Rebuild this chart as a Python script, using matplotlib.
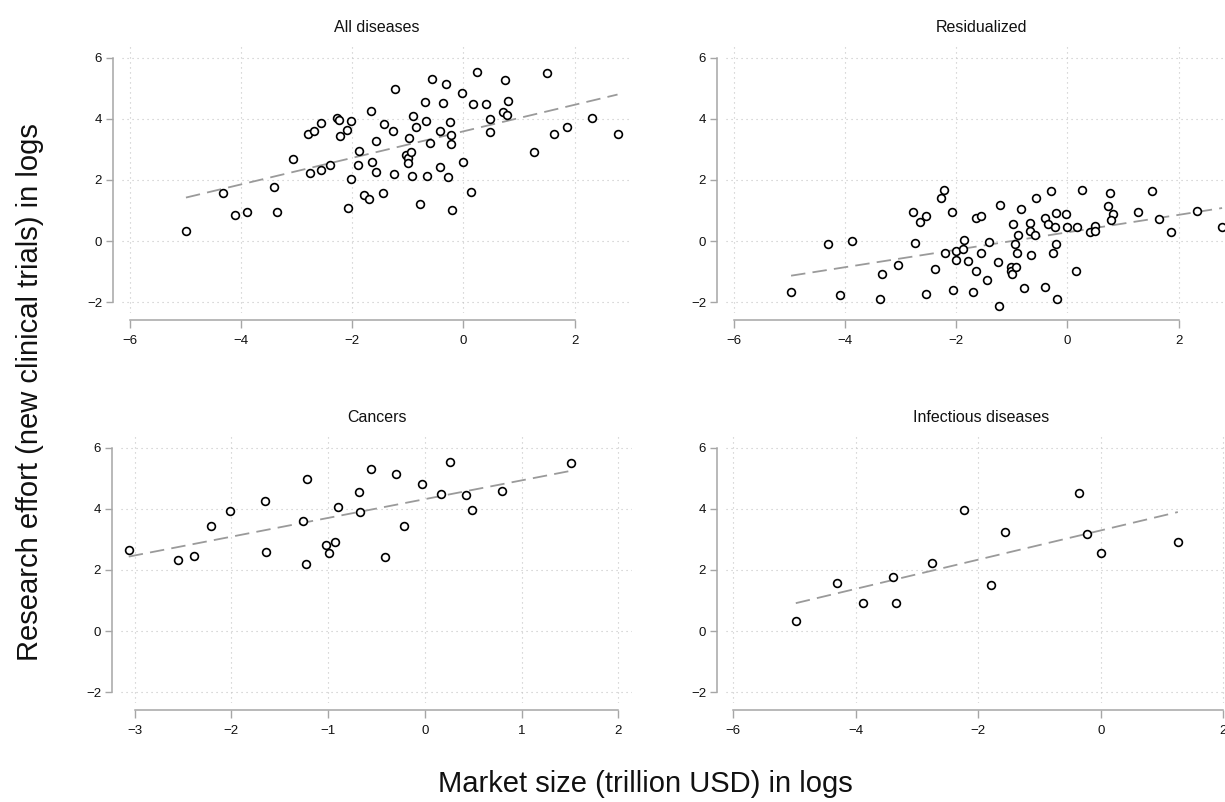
import numpy as np
import matplotlib
matplotlib.use("Agg")
import matplotlib.pyplot as plt

plt.rcParams['font.family'] = ['Liberation Sans', 'DejaVu Sans']

# ---------------- data ----------------
all_x = [-4.99, -4.32, -4.11, -3.90, -3.41, -3.35, -3.07, -2.79, -2.68, -2.57,
         -2.76, -2.56, -2.40, -2.28, -2.24, -2.22, -2.09, -2.02, -2.08, -2.02,
         -1.88, -1.90, -1.79, -1.70, -1.66, -1.65, -1.58, -1.58, -1.45, -1.43,
         -1.27, -1.24, -1.25, -0.98, -1.03, -1.00, -0.94, -1.00, -0.91, -0.85,
         -0.92, -0.79, -0.69, -0.67, -0.57, -0.60, -0.65, -0.42, -0.37, -0.31,
         -0.24, -0.23, -0.23, -0.42, -0.27, -0.20, -0.03, 0.00, 0.13, 0.17,
         0.25, 0.41, 0.48, 0.48, 0.75, 0.80, 0.71, 0.78, 1.26, 1.51,
         1.63, 1.86, 2.31, 2.77]
all_y = [0.33, 1.57, 0.87, 0.95, 1.78, 0.95, 2.68, 3.50, 3.60, 3.86,
         2.24, 2.34, 2.48, 4.02, 3.96, 3.44, 3.65, 3.93, 1.09, 2.02,
         2.94, 2.49, 1.52, 1.38, 4.26, 2.59, 3.27, 2.27, 1.57, 3.83,
         3.61, 4.99, 2.21, 3.36, 2.82, 2.71, 2.92, 2.57, 4.08, 3.73,
         2.13, 1.23, 4.56, 3.92, 5.30, 3.21, 2.13, 3.60, 4.52, 5.15,
         3.89, 3.46, 3.19, 2.44, 2.11, 1.03, 4.84, 2.58, 1.61, 4.49,
         5.53, 4.48, 3.99, 3.56, 5.26, 4.58, 4.21, 4.14, 2.91, 5.49,
         3.50, 3.74, 4.04, 3.50]

res_x = [-4.97, -4.30, -4.09, -3.88, -3.38, -3.33, -3.05, -2.77, -2.74, -2.66,
         -2.55, -2.55, -2.38, -2.27, -2.22, -2.20, -2.07, -2.06, -2.01, -2.01,
         -1.88, -1.86, -1.79, -1.69, -1.65, -1.56, -1.64, -1.56, -1.41, -1.44,
         -1.22, -1.25, -1.23, -1.02, -1.01, -0.99, -0.93, -0.84, -0.98, -0.89,
         -0.95, -0.91, -0.78, -0.68, -0.67, -0.59, -0.65, -0.56, -0.40, -0.35,
         -0.29, -0.21, -0.23, -0.21, -0.26, -0.41, -0.19, -0.02, 0.00, 0.15,
         0.18, 0.26, 0.41, 0.49, 0.50, 0.76, 0.72, 0.81, 0.78, 1.27,
         1.52, 1.64, 1.87, 2.33, 2.78]
res_y = [-1.66, -0.08, -1.75, 0.01, -1.88, -1.06, -0.78, 0.96, -0.07, 0.63,
         0.82, -1.74, -0.91, 1.41, 1.66, -0.39, 0.96, -1.61, -0.33, -0.61,
         -0.26, 0.04, -0.65, -1.67, 0.77, 0.81, -0.98, -0.38, -0.03, -1.28,
         1.17, -0.68, -2.12, -0.85, -0.98, -1.06, -0.84, 1.04, 0.57, 0.19,
         -0.08, -0.40, -1.52, 0.59, 0.33, 0.19, -0.46, 1.42, 0.75, 0.57,
         1.64, 0.92, 0.45, -0.10, -0.38, -1.51, -1.88, 0.90, 0.45, -0.99,
         0.45, 1.67, 0.31, 0.51, 0.33, 1.59, 1.16, 0.88, 0.69, 0.94,
         1.64, 0.73, 0.31, 0.98, 0.47]

can_x = [-3.06, -2.55, -2.39, -2.21, -2.01, -1.65, -1.64, -1.26, -1.22, -1.23,
         -1.02, -0.99, -0.93, -0.90, -0.68, -0.67, -0.56, -0.41, -0.30, -0.22,
         -0.03, 0.17, 0.26, 0.42, 0.49, 0.80, 1.51]
can_y = [2.67, 2.33, 2.47, 3.43, 3.92, 4.25, 2.58, 3.60, 4.97, 2.21,
         2.82, 2.57, 2.92, 4.07, 4.55, 3.91, 5.29, 2.43, 5.14, 3.45,
         4.82, 4.47, 5.52, 4.46, 3.97, 4.57, 5.49]

inf_x = [-4.98, -4.31, -3.89, -3.40, -3.34, -2.75, -2.24, -1.79, -1.57, -0.36,
         -0.22, 0.00, 1.26]
inf_y = [0.32, 1.56, 0.93, 1.77, 0.93, 2.23, 3.95, 1.52, 3.25, 4.51,
         3.19, 2.57, 2.91]

titles = ["All diseases", "Residualized", "Cancers", "Infectious diseases"]
y_ticks = [-2, 0, 2, 4, 6]
x_ticks_wide = [-6, -4, -2, 0, 2]
x_ticks_cancer = [-3, -2, -1, 0, 1, 2]
y_label = "Research effort (new clinical trials) in logs"
x_label = "Market size (trillion USD) in logs"

# ---------------- layout ----------------
W, H = 1225, 802
fig = plt.figure(figsize=(W / 100, H / 100), dpi=100)

def px_axes(l, t, r, b):
    return fig.add_axes([l / W, 1 - b / H, (r - l) / W, (b - t) / H])

panels = [
    dict(title=titles[0], x=all_x, y=all_y, box=(122, 45, 632, 313),
         xlim=(-6.14, 3.03), xt=x_ticks_wide),
    dict(title=titles[1], x=res_x, y=res_y, box=(726, 45, 1236, 313),
         xlim=(-6.14, 3.03), xt=x_ticks_wide),
    dict(title=titles[2], x=can_x, y=can_y, box=(121, 435, 632, 703),
         xlim=(-3.14, 2.14), xt=x_ticks_cancer),
    dict(title=titles[3], x=inf_x, y=inf_y, box=(726, 435, 1236, 703),
         xlim=(-6.12, 2.21), xt=x_ticks_wide),
]

axis_col = '#a6a6a6'
grid_col = '#c4c4c4'

for p in panels:
    l, t, r, b = p['box']
    ax = px_axes(l, t, r, b)
    ax.set_xlim(*p['xlim'])
    ax.set_ylim(-2.35, 6.415)
    ax.set_xticks(p['xt'])
    ax.set_yticks(y_ticks)
    ax.grid(True, color=grid_col, lw=0.8, ls=(0, (1, 3.5)))
    ax.set_axisbelow(True)
    for s in ['top', 'right']:
        ax.spines[s].set_visible(False)
    ax.spines['left'].set_position(('outward', 6.5))
    ax.spines['bottom'].set_position(('outward', 5))
    ax.spines['left'].set_bounds(min(y_ticks), max(y_ticks))
    ax.spines['bottom'].set_bounds(min(p['xt']), max(p['xt']))
    for s in ['left', 'bottom']:
        ax.spines[s].set_color(axis_col)
        ax.spines[s].set_linewidth(1.1)
    ax.tick_params(direction='out', width=1.0, color=axis_col,
                   labelsize=9.5, labelcolor='#111111')
    ax.tick_params(axis='y', length=5, pad=2.8)
    ax.tick_params(axis='x', length=6, pad=5)

    xs = np.array(p['x'])
    ys = np.array(p['y'])
    k, c0 = np.polyfit(xs, ys, 1)
    xx = np.array([xs.min(), xs.max()])
    ax.plot(xx, k * xx + c0, color='#9a9a9a', lw=1.3, ls=(0, (8, 4)),
            zorder=2, clip_on=False)
    ax.plot(xs, ys, ls='none', marker='o', ms=5.6, mfc='white', mec='black',
            mew=1.2, zorder=3, clip_on=False)

    fig.text(((l + r) / 2) / W, 1 - (t - 18) / H, p['title'], ha='center',
             va='center', fontsize=11.5, color='#111111')

fig.text(30 / W, 1 - 392 / H, y_label, rotation=90, ha='center', va='center',
         fontsize=21, color='#111111')
fig.text(645 / W, 1 - 792 / H, x_label, ha='center', va='baseline',
         fontsize=21, color='#111111')

fig.savefig('out.png', dpi=100)
